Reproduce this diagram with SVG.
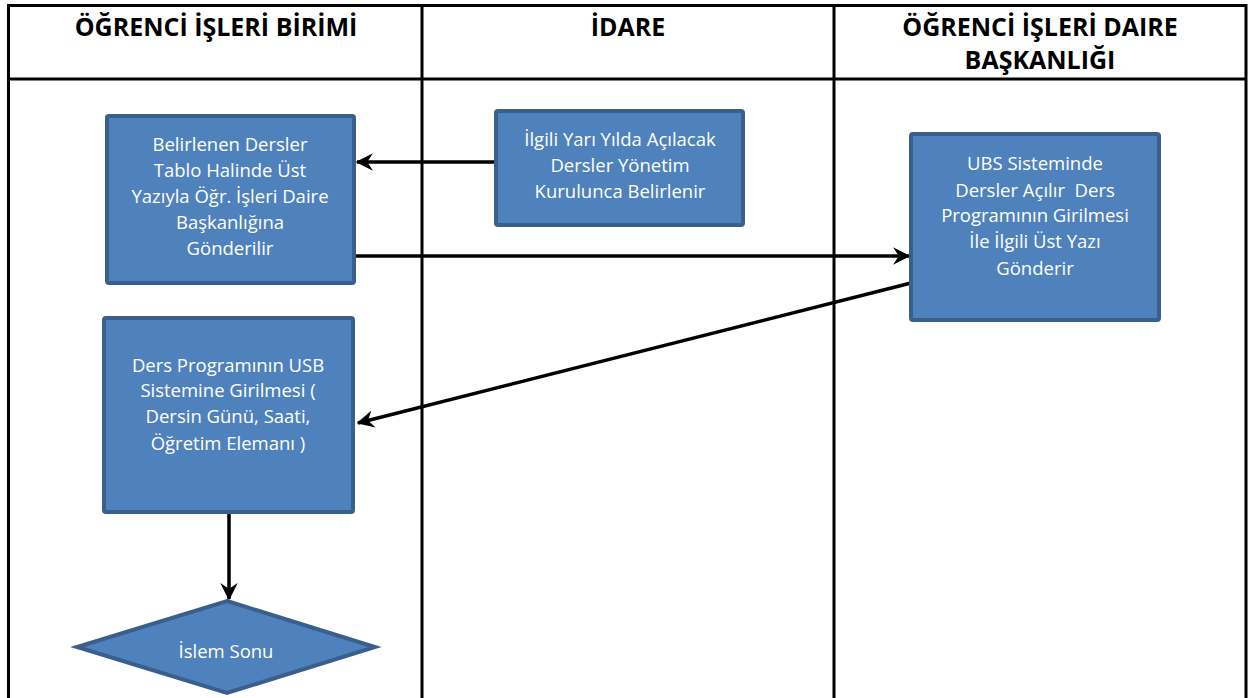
<svg xmlns="http://www.w3.org/2000/svg" width="1255" height="698" viewBox="0 0 1255 698">
<style>
.grid{stroke:#000;stroke-width:3;fill:none}
.box{fill:#4F81BD;stroke:#3A5F8C;stroke-width:4}
.hd{font-family:"Open Sans","Liberation Sans",sans-serif;font-weight:bold;font-size:25px;fill:#000;text-anchor:middle}
.tx{font-family:"Open Sans","Liberation Sans",sans-serif;font-size:18.5px;fill:#fff;text-anchor:middle}
.cn{stroke:#000;stroke-width:3.5;fill:none}
</style>
<defs>
<marker id="ah" viewBox="0 0 12 12" refX="11" refY="6" markerWidth="5" markerHeight="5" markerUnits="strokeWidth" orient="auto">
<path d="M0,0 L12,6 L0,12 L4,6 Z" fill="#000"/>
</marker>
</defs>
<rect width="1255" height="698" fill="#fff"/>
<g id="table">
<path class="grid" d="M8.5,698 V5.5 H1246 V698 M8.5,79 H1246 M422,5.5 V698 M834,5.5 V698"/>
<text class="hd" x="216" y="36">ÖĞRENCİ İŞLERİ BİRİMİ</text>
<text class="hd" x="628" y="36">İDARE</text>
<text class="hd" x="1040" y="36">ÖĞRENCİ İŞLERİ DAIRE</text>
<text class="hd" x="1040" y="69">BAŞKANLIĞI</text>
</g>
<g id="connectors">
<line class="cn" x1="496" y1="162" x2="357" y2="162" marker-end="url(#ah)"/>
<line class="cn" x1="356" y1="256" x2="909" y2="256" marker-end="url(#ah)"/>
<line class="cn" x1="911" y1="283" x2="358" y2="423" marker-end="url(#ah)"/>
<line class="cn" x1="229" y1="513" x2="229" y2="599" marker-end="url(#ah)"/>
</g>
<g id="n1">
<rect class="box" x="107" y="116" width="247" height="167" rx="2"/>
<text class="tx" x="230" y="151">Belirlenen Dersler</text>
<text class="tx" x="230" y="177">Tablo Halinde Üst</text>
<text class="tx" x="230" y="203">Yazıyla Öğr. İşleri Daire</text>
<text class="tx" x="230" y="229">Başkanlığına</text>
<text class="tx" x="230" y="255">Gönderilir</text>
</g>
<g id="n2">
<rect class="box" x="496" y="111" width="247" height="114" rx="2"/>
<text class="tx" x="620" y="146">İlgili Yarı Yılda Açılacak</text>
<text class="tx" x="620" y="172">Dersler Yönetim</text>
<text class="tx" x="620" y="198">Kurulunca Belirlenir</text>
</g>
<g id="n3">
<rect class="box" x="911" y="134" width="248" height="186" rx="2"/>
<text class="tx" x="1035" y="170">UBS Sisteminde</text>
<text class="tx" x="1035" y="197" style="white-space:pre">Dersler Açılır  Ders</text>
<text class="tx" x="1035" y="222">Programının Girilmesi</text>
<text class="tx" x="1035" y="248">İle İlgili Üst Yazı</text>
<text class="tx" x="1035" y="275">Gönderir</text>
</g>
<g id="n4">
<rect class="box" x="104" y="318" width="249" height="194" rx="2"/>
<text class="tx" x="228" y="372">Ders Programının USB</text>
<text class="tx" x="228" y="397">Sistemine Girilmesi (</text>
<text class="tx" x="228" y="423">Dersin Günü, Saati,</text>
<text class="tx" x="228" y="450">Öğretim Elemanı )</text>
</g>
<g id="n5">
<polygon class="box" points="227,601 375,647 227,693 77,647"/>
<text class="tx" x="226" y="658">İslem Sonu</text>
</g>
</svg>
